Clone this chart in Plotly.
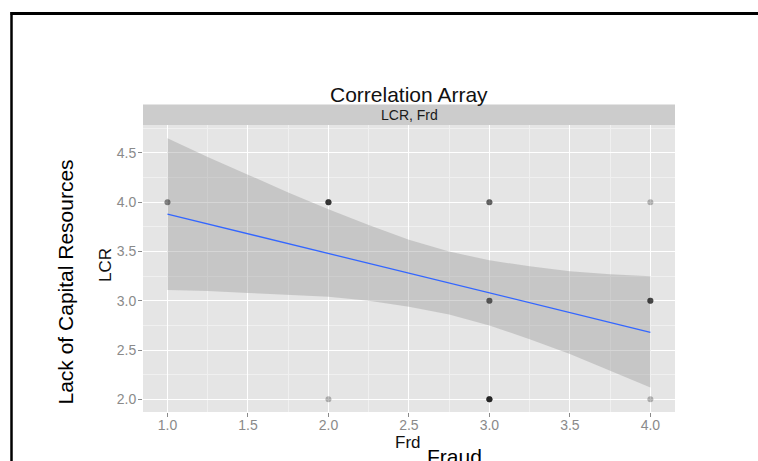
import plotly.graph_objects as go

# ---------------- data ----------------
# observed points (Frd, LCR) and how many observations overlap at each spot
pt_frd = [1, 2, 2, 3, 3, 3, 4, 4, 4]
pt_lcr = [4, 4, 2, 4, 3, 2, 4, 3, 2]
pt_count = [2, 5, 1, 3, 3, 6, 1, 4, 1]

# fitted linear trend (end points) and its confidence band
fit_frd = [1.0, 4.0]
fit_lcr = [3.88, 2.68]

band_frd = [1.0, 1.25, 1.5, 1.75, 2.0, 2.25, 2.5, 2.75, 3.0, 3.25, 3.5, 3.75, 4.0]
band_hi = [4.65, 4.46, 4.28, 4.10, 3.93, 3.77, 3.62, 3.50, 3.41, 3.35, 3.30, 3.27, 3.25]
band_lo = [3.11, 3.10, 3.08, 3.06, 3.04, 3.00, 2.94, 2.86, 2.75, 2.61, 2.46, 2.29, 2.12]

x_ticks = [1.0, 1.5, 2.0, 2.5, 3.0, 3.5, 4.0]
y_ticks = [2.0, 2.5, 3.0, 3.5, 4.0, 4.5]

title_text = "Correlation Array"
strip_text = "LCR, Frd"
x_title = "Frd"
y_title = "LCR"
outer_x_title = "Fraud"
outer_y_title = "Lack of Capital Resources"

# ---------------- layout geometry (pixels) ----------------
W, H = 758, 461
L, R, T, B = 143, 83, 125, 49
PW, PH = W - L - R, H - T - B


def px(x):
    return (x - L) / PW


def py(y):
    return (H - B - y) / PH


FONT = "Liberation Sans, Arial, sans-serif"

# expand overlapping observations so that alpha stacks like the original
ex_x, ex_y = [], []
for xv, yv, n in zip(pt_frd, pt_lcr, pt_count):
    ex_x += [xv] * n
    ex_y += [yv] * n

fig = go.Figure()

fig.add_trace(go.Scatter(x=band_frd, y=band_lo, mode="lines",
                         line=dict(width=0), hoverinfo="skip", showlegend=False))
fig.add_trace(go.Scatter(x=band_frd, y=band_hi, mode="lines", fill="tonexty",
                         fillcolor="rgba(153,153,153,0.4)",
                         line=dict(width=0), hoverinfo="skip", showlegend=False))
fig.add_trace(go.Scatter(x=ex_x, y=ex_y, mode="markers",
                         marker=dict(size=6, color="black", opacity=0.26,
                                     line=dict(width=0)),
                         showlegend=False))
fig.add_trace(go.Scatter(x=fit_frd, y=fit_lcr, mode="lines",
                         line=dict(color="#3366FF", width=1.3), showlegend=False))

axis_common = dict(
    showgrid=True, gridcolor="white", gridwidth=1.2,
    zeroline=False, showline=False,
    ticks="outside", ticklen=4, tickcolor="#8a8a8a", tickwidth=1,
    tickfont=dict(family=FONT, size=14, color="#8a8a8a"),
    tickformat=".1f",
)

fig.update_layout(
    width=W, height=H,
    margin=dict(l=L, r=R, t=T, b=B),
    paper_bgcolor="white", plot_bgcolor="#e5e5e5",
    xaxis=dict(range=[0.848, 4.153], tickvals=x_ticks, ticklabelstandoff=-4,
               minor=dict(tickvals=[1.25, 1.75, 2.25, 2.75, 3.25, 3.75],
                          showgrid=True, gridcolor="#f0f0f0", gridwidth=1),
               **axis_common),
    yaxis=dict(range=[1.871, 4.784], tickvals=y_ticks, ticklabelstandoff=-1,
               minor=dict(tickvals=[2.25, 2.75, 3.25, 3.75, 4.25, 4.75],
                          showgrid=True, gridcolor="#f0f0f0", gridwidth=1),
               **axis_common),
    showlegend=False,
)

shapes = [
    # facet strip
    dict(type="rect", xref="paper", yref="paper", x0=0, x1=1,
         y0=1, y1=py(104.5), fillcolor="#cccccc", line=dict(width=0), layer="below"),
    # black frame (top and left)
    dict(type="line", xref="paper", yref="paper", x0=px(10.5), x1=px(760),
         y0=py(13.5), y1=py(13.5), line=dict(color="black", width=3)),
    dict(type="line", xref="paper", yref="paper", x0=px(11.5), x1=px(11.5),
         y0=py(12), y1=py(470), line=dict(color="black", width=2.5)),
]
fig.update_layout(shapes=shapes)

ann = [
    dict(text=title_text, x=px(408.5), y=py(94), size=21, color="#111111", angle=0),
    dict(text=strip_text, x=px(409), y=py(115), size=14, color="#1a1a1a", angle=0),
    dict(text=x_title, x=px(408), y=py(442), size=17, color="#111111", angle=0),
    dict(text=outer_x_title, x=px(454), y=py(456), size=21, color="black", angle=0),
    dict(text=y_title, x=px(105), y=py(265), size=17, color="#111111", angle=-90),
    dict(text=outer_y_title, x=px(65), y=py(282.5), size=21, color="black", angle=-90),
]
fig.update_layout(annotations=[
    dict(text=a["text"], x=a["x"], y=a["y"], xref="paper", yref="paper",
         xanchor="center", yanchor="middle", showarrow=False, textangle=a["angle"],
         font=dict(family=FONT, size=a["size"], color=a["color"]))
    for a in ann
])

fig.write_html(
    "out.html",
    config={"displayModeBar": False},
    post_script="document.body.style.margin='0px';document.body.style.overflow='hidden';"
                "document.documentElement.style.overflow='hidden';",
)
